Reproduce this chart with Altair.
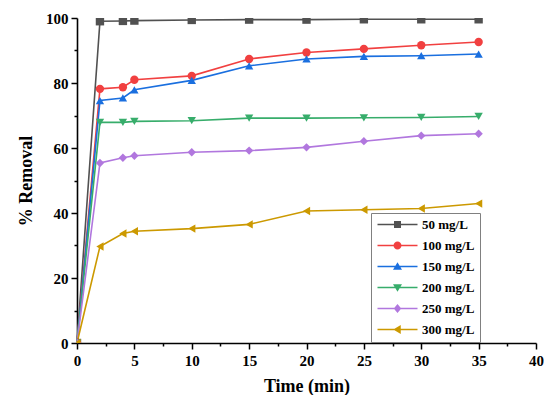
import altair as alt
import pandas as pd

time = [0, 2, 4, 5, 10, 15, 20, 25, 30, 35]
series_names = ["50 mg/L", "100 mg/L", "150 mg/L", "200 mg/L", "250 mg/L", "300 mg/L"]
r50 = [0, 99.0, 99.1, 99.2, 99.4, 99.5, 99.5, 99.6, 99.6, 99.6]
r100 = [0, 78.2, 78.7, 81.0, 82.2, 87.4, 89.4, 90.5, 91.6, 92.6]
r150 = [0, 74.6, 75.4, 77.9, 80.8, 85.3, 87.4, 88.2, 88.4, 88.9]
r200 = [0, 67.9, 67.9, 68.2, 68.4, 69.2, 69.2, 69.3, 69.4, 69.7]
r250 = [0, 55.4, 57.0, 57.6, 58.7, 59.2, 60.2, 62.1, 63.8, 64.4]
r300 = [0, 29.7, 33.7, 34.4, 35.2, 36.5, 40.6, 41.0, 41.4, 42.9]
colors = ["#515151", "#F14040", "#1A6FDF", "#37AD6B", "#B177DE", "#CC9900"]
shapes = ["square", "circle", "triangle-up", "triangle-down", "diamond", "triangle-left"]
x_major = [0, 5, 10, 15, 20, 25, 30, 35, 40]
x_minor = [2.5, 7.5, 12.5, 17.5, 22.5, 27.5, 32.5, 37.5]
y_major = [0, 20, 40, 60, 80, 100]
y_minor = [10, 30, 50, 70, 90]

rows = []
for name, vals in zip(series_names, [r50, r100, r150, r200, r250, r300]):
    for t, v in zip(time, vals):
        rows.append({"time": t, "removal": v, "conc": name})
df = pd.DataFrame(rows)

LINE = "M-4.0,-0.15L4.0,-0.15L4.0,0.15L-4.0,0.15Z"
legend_paths = [
    LINE + "M-0.7,-0.7L0.7,-0.7L0.7,0.7L-0.7,0.7Z",
    LINE + "M-0.8,0A0.8,0.8 0 1,1 0.8,0A0.8,0.8 0 1,1 -0.8,0Z",
    LINE + "M0,-0.85L0.9,0.65L-0.9,0.65Z",
    LINE + "M0,0.85L-0.9,-0.65L0.9,-0.65Z",
    LINE + "M0,-0.9L0.75,0L0,0.9L-0.75,0Z",
    LINE + "M-0.85,0L0.65,-0.9L0.65,0.9Z",
]

FONT = "Liberation Serif"
x_scale = alt.Scale(domain=[0, 40], nice=False, zero=False)
y_scale = alt.Scale(domain=[0, 100], nice=False)
color_scale = alt.Scale(domain=series_names, range=colors)

base = alt.Chart(df)

lines = base.mark_line(strokeWidth=1.6).encode(
    x=alt.X("time:Q", scale=x_scale,
            axis=alt.Axis(values=x_major, title="Time (min)", orient="bottom",
                          grid=False, tickSize=6, labelPadding=4, titlePadding=9,
                          labelFlush=False, labelOverlap=False,
                          domainColor="black", domainWidth=1.6, tickColor="black",
                          tickWidth=1.5, labelColor="black", titleColor="black",
                          labelFont=FONT, labelFontSize=15, labelFontWeight="bold",
                          titleFont=FONT, titleFontSize=18, titleFontWeight="bold")),
    y=alt.Y("removal:Q", scale=y_scale,
            axis=alt.Axis(values=y_major, title="% Removal", orient="left",
                          grid=False, tickSize=6, labelPadding=3, titlePadding=10,
                          labelFlush=False, labelOverlap=False,
                          domainColor="black", domainWidth=1.6, tickColor="black",
                          tickWidth=1.5, labelColor="black", titleColor="black",
                          labelFont=FONT, labelFontSize=15, labelFontWeight="bold",
                          titleFont=FONT, titleFontSize=18, titleFontWeight="bold")),
    color=alt.Color("conc:N", scale=color_scale, legend=None),
    order=alt.Order("time:Q"),
)

points = base.mark_point(filled=True, size=70, opacity=1, clip=True).encode(
    x=alt.X("time:Q", scale=x_scale, axis=None),
    y=alt.Y("removal:Q", scale=y_scale, axis=None),
    color=alt.Color("conc:N", scale=color_scale, legend=None),
    shape=alt.Shape("conc:N", scale=alt.Scale(domain=series_names, range=shapes), legend=None),
)

minor = base.mark_point(opacity=0).encode(
    x=alt.X("time:Q", scale=x_scale,
            axis=alt.Axis(values=x_minor, orient="bottom", labels=False, domain=False,
                          grid=False, tickSize=3, tickColor="black", tickWidth=1.5, title=None)),
    y=alt.Y("removal:Q", scale=y_scale,
            axis=alt.Axis(values=y_minor, orient="left", labels=False, domain=False,
                          grid=False, tickSize=3, tickColor="black", tickWidth=1.5, title=None)),
)

leg = alt.Legend(title=None, orient="none", legendX=294, legendY=195,
                 strokeColor="#808080", padding=5, rowPadding=7,
                 symbolSize=100, symbolOffset=15, labelOffset=18,
                 symbolStrokeWidth=0, symbolOpacity=1,
                 labelFont=FONT, labelFontSize=13, labelFontWeight="bold",
                 labelColor="black")

legend_layer = base.mark_point(filled=True, opacity=0, size=100).encode(
    x=alt.X("time:Q", scale=x_scale, axis=None),
    y=alt.Y("removal:Q", scale=y_scale, axis=None),
    color=alt.Color("conc:N", scale=color_scale, legend=leg),
    shape=alt.Shape("conc:N", scale=alt.Scale(domain=series_names, range=legend_paths), legend=leg),
)

chart = alt.layer(lines, points, minor, legend_layer).resolve_scale(
    color="independent", shape="independent"
).resolve_axis(
    x="independent", y="independent"
).properties(
    width=459, height=325,
    autosize=alt.AutoSizeParams(type="none"),
    padding={"left": 69, "top": 10, "right": 8, "bottom": 52},
).configure_view(stroke=None)

chart.save("out.html", embed_options={"renderer": "svg", "actions": False})
